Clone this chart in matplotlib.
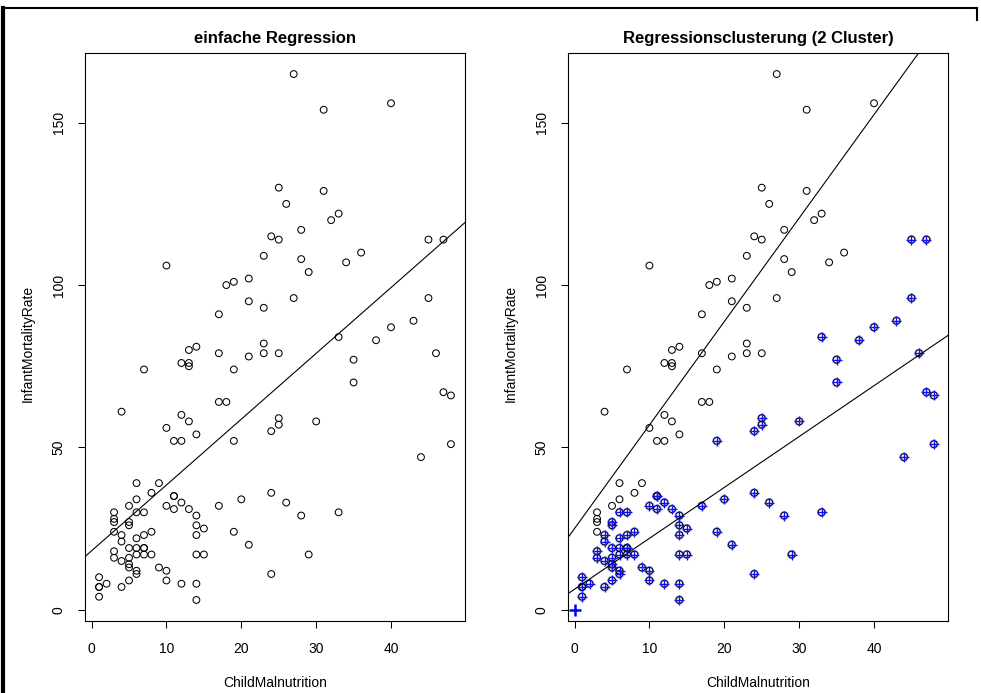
import numpy as np
import matplotlib
matplotlib.use("Agg")
import matplotlib.pyplot as plt
from matplotlib.lines import Line2D

plt.rcParams["font.family"] = ["Liberation Sans", "DejaVu Sans"]

# cluster 1 (upper regression, black circles only)
x_c1 = [27, 31, 40, 25, 31, 26, 33, 32, 28, 24, 25, 23, 28, 34, 36, 10, 29, 21, 19,
        18, 27, 21, 23, 17, 23, 14, 13, 17, 21, 23, 25, 12, 13, 13, 7, 19, 17, 18,
        4, 12, 13, 10, 14, 11, 12, 6, 9, 8, 6, 5, 3, 3, 3, 3, 1]
y_c1 = [165, 154, 156, 130, 129, 125, 122, 120, 117, 115, 114, 109, 108, 107, 110,
        106, 104, 102, 101, 100, 96, 95, 93, 91, 82, 81, 80, 79, 78, 79, 79, 76, 76,
        75, 74, 74, 64, 64, 61, 60, 58, 56, 54, 52, 52, 39, 39, 36, 34, 32, 30, 28,
        27, 24, 7]

# cluster 2 (lower regression, marked with blue crosses)
x_c2 = [45, 47, 45, 43, 40, 33, 38, 46, 35, 35, 47, 48, 30, 25, 25, 24, 19, 48, 44,
        24, 20, 26, 17, 33, 28, 19, 21, 29, 24,
        11, 11, 10, 11, 12, 13, 14, 14, 15, 14,
        7, 6, 5, 5, 4, 4, 6, 7, 8,
        3, 3, 4, 5, 5, 5, 5, 6, 7, 7, 6, 7, 8, 6, 6, 5, 9, 10, 10, 12, 14, 15, 14,
        14, 1, 1, 2, 1, 4]
y_c2 = [114, 114, 96, 89, 87, 84, 83, 79, 77, 70, 67, 66, 58, 59, 57, 55, 52, 51, 47,
        36, 34, 33, 32, 30, 29, 24, 20, 17, 11,
        35, 35, 32, 31, 33, 31, 29, 26, 25, 23,
        30, 30, 27, 26, 23, 21, 22, 23, 24,
        18, 16, 15, 19, 16, 14, 13, 19, 19, 19, 17, 17, 17, 12, 11, 9, 13, 12, 9, 8,
        17, 17, 8, 3, 10, 7, 8, 4, 7]

origin_mark = ([0], [0])

x_ticks = [0, 10, 20, 30, 40]
y_ticks = [0, 50, 100, 150]

x_all = np.array(x_c1 + x_c2)
y_all = np.array(y_c1 + y_c2)

W, H = 981, 693
fig = plt.figure(figsize=(W / 100, H / 100), dpi=100)

# R style ranges: data range padded by 4 %
xr = x_all.max() - x_all.min()
yr = y_all.max() - y_all.min()
xlim = (x_all.min() - 0.04 * xr, x_all.max() + 0.04 * xr)
ylim = (y_all.min() - 0.04 * yr, y_all.max() + 0.04 * yr)


def make_axes(left_px):
    ax = fig.add_axes([left_px / W, 1 - 621 / H, 380 / W, 568 / H])
    ax.set_xlim(xlim)
    ax.set_ylim(ylim)
    ax.set_xticks(x_ticks)
    ax.set_yticks(y_ticks)
    ax.tick_params(direction="out", length=5, width=0.75, labelsize=10, pad=9)
    ax.tick_params(axis="x", pad=10)
    for lab in ax.get_yticklabels():
        lab.set_rotation(90)
        lab.set_va("center")
    for sp in ax.spines.values():
        sp.set_linewidth(0.8)
    return ax


ax1 = make_axes(85)
ax1.scatter(x_all, y_all, s=24, facecolors="none", edgecolors="black", linewidths=0.75)
m, b = np.polyfit(x_all, y_all, 1)
ax1.axline((0, b), slope=m, color="black", lw=0.8)

ax2 = make_axes(568)
# faint blue halo behind the cluster 2 circles
ax2.scatter(x_c2, y_c2, s=30, facecolors="none", edgecolors="#6a6aff", linewidths=1.2,
            alpha=0.6)
ax2.scatter(x_all, y_all, s=24, facecolors="none", edgecolors="black", linewidths=0.75)
ax2.scatter(x_c2, y_c2, s=50, marker="+", color="#1010ff", linewidths=1.0)
ax2.scatter(*origin_mark, s=70, marker="+", color="#0000ff", linewidths=1.8, clip_on=False)
m1, b1 = np.polyfit(x_c1, y_c1, 1)
m2, b2 = np.polyfit(x_c2, y_c2, 1)
ax2.axline((0, b1), slope=m1, color="black", lw=0.8)
ax2.axline((0, b2), slope=m2, color="black", lw=0.8)

for ax, left, title in [(ax1, 85, "einfache Regression"),
                        (ax2, 568, "Regressionsclusterung (2 Cluster)")]:
    cx = (left + 190) / W
    fig.text(cx, 1 - 38 / H, title, ha="center", va="center", fontsize=12, fontweight="bold")
    fig.text(cx, 1 - 683 / H, "ChildMalnutrition", ha="center", va="center", fontsize=10)
    fig.text((left - 57) / W, 1 - 343 / H, "InfantMortalityRate", ha="center", va="center",
             rotation=90, fontsize=10)

# frame around the picture
fig.add_artist(Line2D([3 / W, 3 / W], [0, 1 - 8 / H], color="black", lw=3))
fig.add_artist(Line2D([3 / W, 977 / W], [1 - 8 / H, 1 - 8 / H], color="black", lw=1.5))
fig.add_artist(Line2D([977 / W, 977 / W], [1 - 8 / H, 1 - 20 / H], color="black", lw=1.5))

fig.savefig("out.png", dpi=100)
